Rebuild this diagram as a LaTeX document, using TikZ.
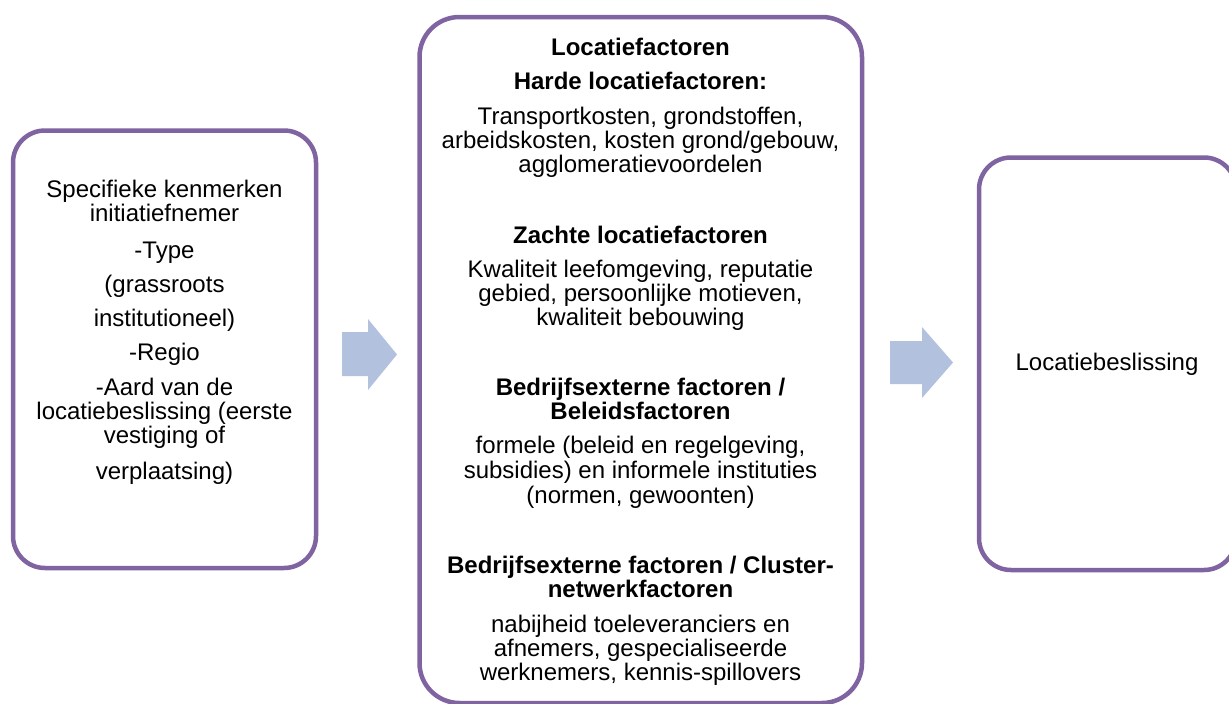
\documentclass[tikz,border=0pt]{standalone}
\usepackage{fontspec}
\setmainfont{Liberation Sans}
\definecolor{boxpurple}{HTML}{8064A2}
\definecolor{arrowblue}{HTML}{B2C2DE}
\begin{document}
\begin{tikzpicture}[x=1pt,y=-1pt,
  roundbox/.style={draw=boxpurple, line width=4.5pt, fill=white, rounded corners=#1, inner sep=0pt},
  txt/.style={anchor=base, inner sep=0pt, font=\fontsize{24}{24}\selectfont},
  hd/.style={anchor=base, inner sep=0pt, font=\fontsize{24}{24}\selectfont\bfseries},
  blockarrow/.style={fill=arrowblue, draw=none}]
\useasboundingbox (0,0) rectangle (1229,704);
\clip (0,0) rectangle (1229,704);
\fill[white] (0,0) rectangle (1229,704);

% boxes
\node[roundbox=32pt, minimum width=303pt, minimum height=437.5pt] (left) at (164.5,349.25) {};
\node[roundbox=40pt, minimum width=442.5pt, minimum height=686pt] (mid) at (640.75,360) {};
\node[roundbox=32pt, minimum width=257pt, minimum height=412.5pt] (right) at (1107.5,363.75) {};

% block arrows
\fill[blockarrow] (342,332) -- (368,332) -- (368,319) -- (397,354.5) -- (368,390) -- (368,376) -- (342,376) -- cycle;
\fill[blockarrow] (890,341) -- (922,341) -- (922,327) -- (953,362.5) -- (922,398) -- (922,384) -- (890,384) -- cycle;

% left text
\node[txt] (l1) at (164.5,197) {Specifieke kenmerken};
\node[txt] (l2) at (164.5,221) {initiatiefnemer};
\node[txt] (l3) at (164.5,258) {-Type};
\node[txt] (l4) at (164.5,292.5) {(grassroots};
\node[txt] (l5) at (164.5,326.5) {institutioneel)};
\node[txt] (l6) at (164.5,360.5) {-Regio};
\node[txt] (l7) at (164.5,395.5) {-Aard van de};
\node[txt] (l8) at (164.5,419.5) {locatiebeslissing (eerste};
\node[txt] (l9) at (164.5,443.5) {vestiging of};
\node[txt] (l10) at (164.5,479) {verplaatsing)};

% middle text
\node[hd] (m1) at (640.5,55.5) {Locatiefactoren};
\node[hd] (m2) at (640.5,89.5) {Harde locatiefactoren:};
\node[txt] (m3) at (640.5,124.5) {Transportkosten, grondstoffen,};
\node[txt] (m4) at (640.5,148.5) {arbeidskosten, kosten grond/gebouw,};
\node[txt] (m5) at (640.5,172.5) {agglomeratievoordelen};
\node[hd] (m6) at (640.5,243) {Zachte locatiefactoren};
\node[txt] (m7) at (640.5,277) {Kwaliteit leefomgeving, reputatie};
\node[txt] (m8) at (640.5,301) {gebied, persoonlijke motieven,};
\node[txt] (m9) at (640.5,325.5) {kwaliteit bebouwing};
\node[hd] (m10) at (640.5,395) {Bedrijfsexterne factoren /};
\node[hd] (m11) at (640.5,419) {Beleidsfactoren};
\node[txt] (m12) at (640.5,453) {formele (beleid en regelgeving,};
\node[txt] (m13) at (640.5,478) {subsidies) en informele instituties};
\node[txt] (m14) at (640.5,503) {(normen, gewoonten)};
\node[hd] (m15) at (640.5,573) {Bedrijfsexterne factoren / Cluster-};
\node[hd] (m16) at (640.5,597) {netwerkfactoren};
\node[txt] (m17) at (640.5,632) {nabijheid toeleveranciers en};
\node[txt] (m18) at (640.5,656) {afnemers, gespecialiseerde};
\node[txt] (m19) at (640.5,680) {werknemers, kennis-spillovers};

% right text
\node[txt] (r1) at (1107,370) {Locatiebeslissing};
\end{tikzpicture}
\end{document}
